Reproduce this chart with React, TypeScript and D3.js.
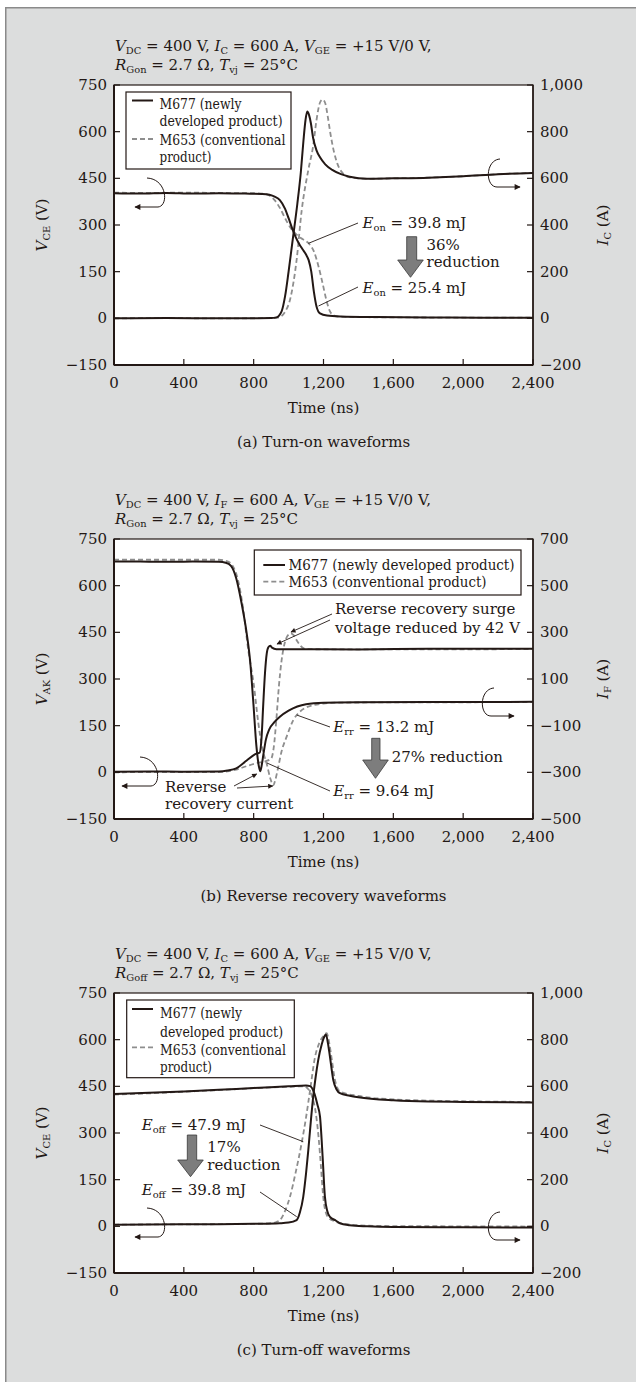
import React from 'react';
import * as d3 from 'd3';

type P = [number, number];
type Seg = { t: string; i?: boolean; sub?: boolean };

// ---------- ticks ----------
const xTicks = [0, 400, 800, 1200, 1600, 2000, 2400];
const vTicks = [-150, 0, 150, 300, 450, 600, 750];
const icTicks = [-200, 0, 200, 400, 600, 800, 1000];
const ifTicks = [-500, -300, -100, 100, 300, 500, 700];

// ---------- (a) turn-on ----------
const aVceNew: P[] = [[0,402],[150,401],[300,403],[450,401],[600,402],[750,401],[850,400],[890,397],[920,391],[950,380],[980,352],[1000,322],[1020,290],[1040,262],[1060,240],[1080,222],[1100,205],[1115,187],[1130,150],[1145,85],[1160,38],[1180,16],[1220,9],[1300,6],[1500,4],[1800,3],[2100,2],[2400,2]];
const aVceOld: P[] = [[0,404],[200,403],[400,404],[600,403],[800,402],[860,400],[890,395],[920,380],[950,355],[980,322],[1010,292],[1040,272],[1070,258],[1100,248],[1120,238],[1145,215],[1170,170],[1195,112],[1215,62],[1235,25],[1260,9],[1300,5],[1600,3],[2400,2]];
const aIcNew: P[] = [[0,0],[300,1],[600,0],[900,1],[930,4],[960,30],[980,95],[1000,200],[1025,345],[1050,490],[1070,625],[1085,760],[1097,850],[1107,886],[1117,872],[1128,835],[1140,775],[1160,720],[1180,690],[1210,660],[1250,636],[1300,618],[1350,607],[1450,598],[1600,600],[1800,603],[2000,609],[2200,618],[2400,623]];
const aIcOld: P[] = [[0,0],[300,1],[600,0],[920,1],[950,6],[980,28],[1010,85],[1046,250],[1075,462],[1113,636],[1141,740],[1160,850],[1180,925],[1195,938],[1210,922],[1225,862],[1240,790],[1258,720],[1280,662],[1310,622],[1350,604],[1450,598],[1600,600],[1800,603],[2000,609],[2200,618],[2400,623]];

// ---------- (b) reverse recovery ----------
const bIfNew: P[] = [[0,603],[150,604],[300,602],[450,604],[600,602],[640,598],[670,585],[700,532],[730,428],[760,296],[780,175],[797,10],[816,-190],[830,-275],[838,-295],[846,-270],[856,-222],[870,-160],[890,-115],[920,-84],[950,-62],[1000,-36],[1050,-18],[1100,-8],[1200,-2],[1400,0],[1800,1],[2400,2]];
const bIfOld: P[] = [[0,612],[300,611],[600,611],[650,604],[680,585],[710,525],[740,400],[769,224],[800,80],[827,-90],[850,-200],[874,-261],[895,-325],[912,-355],[925,-330],[941,-276],[960,-210],[989,-147],[1027,-76],[1065,-40],[1100,-22],[1142,-12],[1200,-5],[1300,-1],[1800,0],[2400,1]];
const bVakNew: P[] = [[0,2],[200,3],[400,2],[600,3],[650,6],[700,13],[760,38],[807,58],[835,64],[845,110],[855,220],[865,320],[875,382],[885,403],[895,407],[905,401],[930,396],[1000,396],[1400,395],[1800,397],[2400,397]];
const bVakOld: P[] = [[0,0],[300,1],[600,1],[650,3],[700,9],[760,20],[820,30],[870,36],[900,44],[915,80],[930,170],[945,280],[960,360],[980,420],[1000,443],[1012,447],[1030,440],[1050,421],[1075,403],[1100,396],[1400,395],[2400,396]];

// ---------- (c) turn-off ----------
const cIcNew: P[] = [[0,567],[200,572],[400,578],[600,585],[800,593],[1000,600],[1100,604],[1123,601],[1145,575],[1165,522],[1180,470],[1195,298],[1208,127],[1222,65],[1237,41],[1270,25],[1294,13],[1350,5],[1450,0],[1600,-3],[2000,-4],[2400,-5]];
const cIcOld: P[] = [[0,565],[200,570],[400,577],[600,584],[800,592],[1000,598],[1090,600],[1110,590],[1135,555],[1155,490],[1172,380],[1185,260],[1198,130],[1212,62],[1230,36],[1270,20],[1350,8],[1450,3],[1600,1],[2000,0],[2400,-1]];
const cVceNew: P[] = [[0,5],[200,6],[400,7],[600,7],[800,8],[950,10],[1000,12],[1046,20],[1065,45],[1084,95],[1100,170],[1113,245],[1127,335],[1141,417],[1155,480],[1170,535],[1190,585],[1205,610],[1214,617],[1225,590],[1237,545],[1256,470],[1275,440],[1294,428],[1350,420],[1400,415],[1600,405],[1800,401],[2000,400],[2400,398]];
const cVceOld: P[] = [[0,5],[200,6],[400,6],[600,7],[800,8],[900,10],[930,14],[951,20],[980,50],[1008,95],[1040,172],[1075,268],[1100,350],[1125,445],[1150,540],[1175,588],[1200,612],[1218,621],[1232,592],[1247,538],[1264,475],[1282,442],[1300,432],[1400,419],[1600,408],[2000,402],[2400,400]];

// ---------- text ----------
const legendA = ['M677 (newly', 'developed product)', 'M653 (conventional', 'product)'];
const legendB = ['M677 (newly developed product)', 'M653 (conventional product)'];
const captions = ['(a) Turn-on waveforms', '(b) Reverse recovery waveforms', '(c) Turn-off waveforms'];

const FONT = '"DejaVu Serif", "Liberation Serif", serif';
const INK = '#231815';
const DASHC = '#8e8e8e';
const BG = '#dcdddd';

const W = 636, H = 1382;
const PL = 114, PR = 533, PH = 280;

function Rich({ x, y, segs, size = 15, anchor = 'start', transform, fill = INK }: any) {
  let shifted = false;
  const kids = segs.map((s: Seg, k: number) => {
    let dy: number | undefined;
    if (s.sub && !shifted) { dy = size * 0.17; shifted = true; }
    else if (!s.sub && shifted) { dy = -size * 0.17; shifted = false; }
    return (
      <tspan key={k} dy={dy} fontStyle={s.i ? 'italic' : undefined} fontSize={s.sub ? size * 0.66 : undefined}>{s.t}</tspan>
    );
  });
  return (
    <text x={x} y={y} fontSize={size} textAnchor={anchor} transform={transform} fill={fill} fontFamily={FONT} style={{ whiteSpace: 'pre' }}>{kids}</text>
  );
}

const fmt = d3.format(',');

function blockArrow(sx1: number, sx2: number, top: number, headTop: number, hx1: number, hx2: number, tip: number) {
  const mid = (hx1 + hx2) / 2;
  return `M${sx1},${top} L${sx2},${top} L${sx2},${headTop} L${hx2},${headTop} L${mid},${tip} L${hx1},${headTop} L${sx1},${headTop} Z`;
}
function leftCurl(x0: number, y: number, xEnd: number) {
  return `M${x0},${y - 15} C${x0 + 20},${y - 14} ${x0 + 22},${y + 13} ${x0 + 11},${y + 14} L${xEnd},${y + 14}`;
}
function rightCurl(x0: number, y: number, xEnd: number) {
  return `M${x0},${y - 14} C${x0 - 15},${y - 13} ${x0 - 15},${y + 14} ${x0 - 3},${y + 14} L${xEnd},${y + 14}`;
}

function Panel({ cfg }: any) {
  const top = cfg.top;
  const bottom = top + PH;
  const x = d3.scaleLinear().domain([0, 2400]).range([PL, PR]);
  const yL = d3.scaleLinear().domain([-150, 750]).range([bottom, top]);
  const yR = d3.scaleLinear().domain(cfg.rDomain).range([bottom, top]);
  const lineL = d3.line<P>().x(d => x(d[0])).y(d => yL(d[1])).curve(d3.curveMonotoneX);
  const lineR = d3.line<P>().x(d => x(d[0])).y(d => yR(d[1])).curve(d3.curveMonotoneX);
  const midY = (top + bottom) / 2;
  return (
    <g>
      <Rich x={115} y={top - 34} segs={cfg.head1} />
      <Rich x={115} y={top - 15} segs={cfg.head2} />
      <rect x={PL} y={top} width={PR - PL} height={PH} fill="#fff" stroke={INK} strokeWidth={1.2} />
      {/* curves */}
      <path d={lineL(cfg.leftOld) || ''} fill="none" stroke={DASHC} strokeWidth={1.8} strokeDasharray="5,3" />
      <path d={lineR(cfg.rightOld) || ''} fill="none" stroke={DASHC} strokeWidth={1.8} strokeDasharray="5,3" />
      <path d={lineL(cfg.leftNew) || ''} fill="none" stroke={INK} strokeWidth={2} />
      <path d={lineR(cfg.rightNew) || ''} fill="none" stroke={INK} strokeWidth={2} />
      {/* axes */}
      <line x1={PL} x2={PL} y1={top} y2={bottom} stroke={INK} strokeWidth={2} />
      <line x1={PL} x2={PR} y1={bottom} y2={bottom} stroke={INK} strokeWidth={2} />
      <line x1={PR} x2={PR} y1={top} y2={bottom} stroke={INK} strokeWidth={1.5} />
      {vTicks.map(v => (
        <g key={'l' + v}>
          <line x1={PL} x2={PL + 6} y1={yL(v)} y2={yL(v)} stroke={INK} strokeWidth={1.2} />
          <text x={107} y={yL(v) + 5} textAnchor="end" fontSize={15} fontFamily={FONT} fill={INK}>{fmt(v)}</text>
        </g>
      ))}
      {cfg.rTicks.map((v: number) => (
        <g key={'r' + v}>
          <line x1={PR - 6} x2={PR} y1={yR(v)} y2={yR(v)} stroke={INK} strokeWidth={1.2} />
          <text x={540} y={yR(v) + 5} textAnchor="start" fontSize={15} fontFamily={FONT} fill={INK}>{fmt(v)}</text>
        </g>
      ))}
      {xTicks.map(t => (
        <g key={'x' + t}>
          <line x1={x(t)} x2={x(t)} y1={bottom} y2={bottom - 6} stroke={INK} strokeWidth={1.2} />
          <text x={x(t)} y={bottom + 23} textAnchor="middle" fontSize={15} fontFamily={FONT} fill={INK}>{fmt(t)}</text>
        </g>
      ))}
      <text x={(PL + PR) / 2} y={bottom + 48} textAnchor="middle" fontSize={15} fontFamily={FONT} fill={INK}>Time (ns)</text>
      <text x={(PL + PR) / 2} y={bottom + 82} textAnchor="middle" fontSize={15} fontFamily={FONT} fill={INK}>{cfg.caption}</text>
      <Rich x={0} y={0} anchor="middle" transform={`translate(47,${midY}) rotate(-90)`} segs={cfg.leftLabel} />
      <Rich x={0} y={0} anchor="middle" transform={`translate(608,${midY}) rotate(-90)`} segs={cfg.rightLabel} />
      {/* legend */}
      <rect x={cfg.legend.x} y={top + cfg.legend.y} width={cfg.legend.w} height={cfg.legend.h} fill="#fff" stroke={INK} strokeWidth={1.2} />
      {cfg.legend.rows.map((r: any, k: number) => (
        <g key={'lg' + k}>
          {r.sample && (
            <line x1={r.sx1} x2={r.sx2} y1={top + r.sy} y2={top + r.sy}
              stroke={r.sample === 'solid' ? INK : DASHC} strokeWidth={r.sample === 'solid' ? 2 : 1.8}
              strokeDasharray={r.sample === 'solid' ? undefined : '5,3'} />
          )}
          <text x={cfg.legend.tx} y={top + r.ty} fontSize={15} fontFamily={FONT} fill={INK}
            textLength={r.tl} lengthAdjust="spacingAndGlyphs" style={{ whiteSpace: 'pre' }}>{r.text}</text>
        </g>
      ))}
      {/* annotations */}
      {cfg.leaders.map((l: number[], k: number) => (
        <line key={'ld' + k} x1={l[0]} y1={l[1]} x2={l[2]} y2={l[3]} stroke={INK} strokeWidth={0.9} markerEnd={l[4] ? 'url(#ah2)' : undefined} />
      ))}
      {cfg.texts.map((t: any, k: number) => (
        <Rich key={'tx' + k} x={t.x} y={t.y} segs={t.segs} />
      ))}
      <path d={blockArrow(...(cfg.arrow as [number, number, number, number, number, number, number]))} fill="#7d7d7d" stroke="#3a3a3a" strokeWidth={0.8} />
      <path d={leftCurl(cfg.lc[0], cfg.lc[1], cfg.lc[2])} fill="none" stroke={INK} strokeWidth={1} markerEnd="url(#ah)" />
      <path d={rightCurl(cfg.rc[0], cfg.rc[1], cfg.rc[2])} fill="none" stroke={INK} strokeWidth={1} markerEnd="url(#ah)" />
    </g>
  );
}

const E = (sym: string, sub: string, rest: string): Seg[] => [{ t: sym, i: true }, { t: sub, sub: true }, { t: rest }];

const legendRowsA = (o: number[]) => [
  { sample: 'solid', sx1: 132, sx2: 153, sy: o[0], text: legendA[0], ty: o[1], tl: 82 },
  { text: legendA[1], ty: o[2], tl: 123 },
  { sample: 'dashed', sx1: 132, sx2: 153, sy: o[3], text: legendA[2], ty: o[4], tl: 126 },
  { text: legendA[3], ty: o[5], tl: 52 },
];

const panels = [
  {
    top: 85,
    rDomain: [-200, 1000],
    rTicks: icTicks,
    leftNew: aVceNew, leftOld: aVceOld, rightNew: aIcNew, rightOld: aIcOld,
    head1: [...E('V', 'DC', ' = 400 V, '), ...E('I', 'C', ' = 600 A, '), ...E('V', 'GE', ' = +15 V/0 V,')],
    head2: [...E('R', 'Gon', ' = 2.7 Ω, '), ...E('T', 'vj', ' = 25°C')],
    leftLabel: E('V', 'CE', ' (V)'),
    rightLabel: E('I', 'C', ' (A)'),
    caption: captions[0],
    legend: { x: 126, y: 7, w: 165, h: 77, tx: 159.5, rows: legendRowsA([15.5, 23.5, 40.5, 54, 59.5, 77]) },
    leaders: [[358, 223, 308.3, 243.4, 0], [358, 287, 318.5, 306, 0]],
    texts: [
      { x: 362.5, y: 228, segs: E('E', 'on', ' = 39.8 mJ') },
      { x: 426.5, y: 250, segs: [{ t: '36%' }] },
      { x: 426.5, y: 267, segs: [{ t: 'reduction' }] },
      { x: 362.5, y: 293, segs: E('E', 'on', ' = 25.4 mJ') },
    ],
    arrow: [406.7, 416.7, 236.7, 260, 397.7, 423.3, 277.3],
    lc: [147, 193, 135],
    rc: [500, 173, 520],
  },
  {
    top: 539,
    rDomain: [-500, 700],
    rTicks: ifTicks,
    leftNew: bVakNew, leftOld: bVakOld, rightNew: bIfNew, rightOld: bIfOld,
    head1: [...E('V', 'DC', ' = 400 V, '), ...E('I', 'F', ' = 600 A, '), ...E('V', 'GE', ' = +15 V/0 V,')],
    head2: [...E('R', 'Gon', ' = 2.7 Ω, '), ...E('T', 'vj', ' = 25°C')],
    leftLabel: E('V', 'AK', ' (V)'),
    rightLabel: E('I', 'F', ' (A)'),
    caption: captions[1],
    legend: {
      x: 254.3, y: 11, w: 266.7, h: 45, tx: 288.5,
      rows: [
        { sample: 'solid', sx1: 263.3, sx2: 285, sy: 26, text: legendB[0], ty: 31, tl: 226 },
        { sample: 'dashed', sx1: 263.3, sx2: 285, sy: 42.7, text: legendB[1], ty: 47.7, tl: 198 },
      ],
    },
    leaders: [
      [332, 614, 291, 632, 1], [330, 620, 277, 644, 1],
      [330, 727, 296.7, 715, 0], [330, 791, 267, 763, 0],
      [234, 786, 256.7, 774, 1], [237, 788, 272.7, 786, 1],
    ],
    texts: [
      { x: 335, y: 614, segs: [{ t: 'Reverse recovery surge' }] },
      { x: 335, y: 633, segs: [{ t: 'voltage reduced by 42 V' }] },
      { x: 333.3, y: 732, segs: E('E', 'rr', ' = 13.2 mJ') },
      { x: 391.7, y: 762, segs: [{ t: '27% reduction' }] },
      { x: 333.3, y: 796, segs: E('E', 'rr', ' = 9.64 mJ') },
      { x: 165, y: 792, segs: [{ t: 'Reverse' }] },
      { x: 165, y: 809, segs: [{ t: 'recovery current' }] },
    ],
    arrow: [371.7, 380, 738.3, 760, 362.7, 388.3, 778.3],
    lc: [140, 772, 122],
    rc: [494, 702, 514],
  },
  {
    top: 993,
    rDomain: [-200, 1000],
    rTicks: icTicks,
    leftNew: cVceNew, leftOld: cVceOld, rightNew: cIcNew, rightOld: cIcOld,
    head1: [...E('V', 'DC', ' = 400 V, '), ...E('I', 'C', ' = 600 A, '), ...E('V', 'GE', ' = +15 V/0 V,')],
    head2: [...E('R', 'Goff', ' = 2.7 Ω, '), ...E('T', 'vj', ' = 25°C')],
    leftLabel: E('V', 'CE', ' (V)'),
    rightLabel: E('I', 'C', ' (A)'),
    caption: captions[2],
    legend: { x: 126.7, y: 7, w: 167.6, h: 77.7, tx: 160, rows: legendRowsA([16, 25.3, 43.7, 54.3, 62, 78.7]) },
    leaders: [[260, 1125, 303.3, 1141.7, 0], [260, 1192, 296.7, 1216.7, 0]],
    texts: [
      { x: 141.7, y: 1130, segs: E('E', 'off', ' = 47.9 mJ') },
      { x: 207.3, y: 1152, segs: [{ t: '17%' }] },
      { x: 207.3, y: 1170, segs: [{ t: 'reduction' }] },
      { x: 141.7, y: 1195, segs: E('E', 'off', ' = 39.8 mJ') },
    ],
    arrow: [187.3, 196.7, 1135, 1160, 177.7, 203.3, 1176.7],
    lc: [147, 1223, 135],
    rc: [500, 1226, 520],
  },
];

export default function App() {
  return (
    <svg width={W} height={H} viewBox={`0 0 ${W} ${H}`} style={{ position: 'absolute', left: 0, top: 0, display: 'block' }}>
      <defs>
        <marker id="ah" viewBox="0 0 10 10" refX={9} refY={5} markerWidth={9} markerHeight={6} orient="auto" markerUnits="userSpaceOnUse">
          <path d="M0,0 L10,5 L0,10 z" fill={INK} />
        </marker>
        <marker id="ah2" viewBox="0 0 10 10" refX={9} refY={5} markerWidth={8} markerHeight={5} orient="auto" markerUnits="userSpaceOnUse">
          <path d="M0,0 L10,5 L0,10 z" fill={INK} />
        </marker>
      </defs>
      <rect x={0} y={0} width={W} height={H} fill="#fff" />
      <rect x={5.75} y={7.75} width={W + 20} height={H + 20} fill={BG} stroke="#8a8a8a" strokeWidth={1.5} />
      {panels.map((p, k) => <Panel key={k} cfg={p} />)}
    </svg>
  );
}
